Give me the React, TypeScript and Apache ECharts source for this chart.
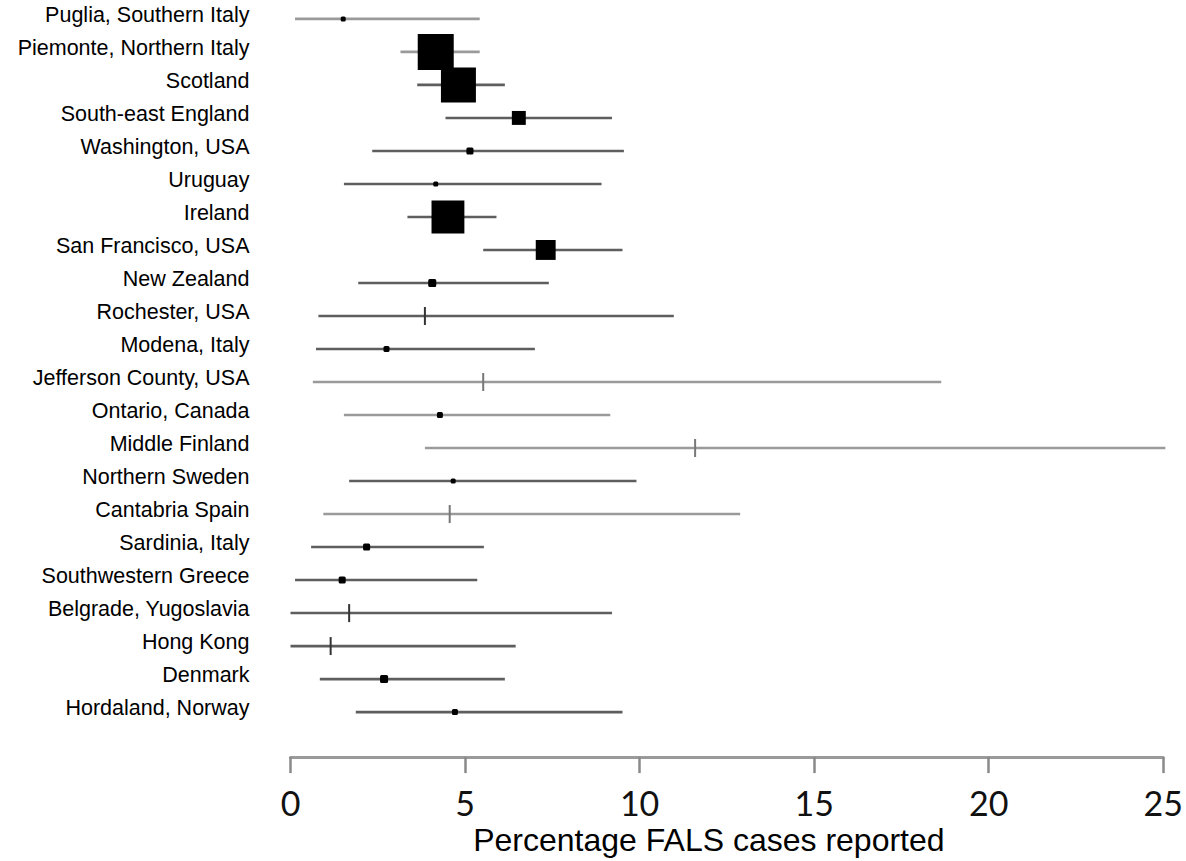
import React, { useEffect, useRef } from "react";
import * as echarts from "echarts";

const regions = [
  "Puglia, Southern Italy",
  "Piemonte, Northern Italy",
  "Scotland",
  "South-east England",
  "Washington, USA",
  "Uruguay",
  "Ireland",
  "San Francisco, USA",
  "New Zealand",
  "Rochester, USA",
  "Modena, Italy",
  "Jefferson County, USA",
  "Ontario, Canada",
  "Middle Finland",
  "Northern Sweden",
  "Cantabria Spain",
  "Sardinia, Italy",
  "Southwestern Greece",
  "Belgrade, Yugoslavia",
  "Hong Kong",
  "Denmark",
  "Hordaland, Norway",
];
const estimate = [1.51, 4.16, 4.81, 6.54, 5.14, 4.16, 4.51, 7.31, 4.06, 3.85, 2.75, 5.52, 4.28, 11.59, 4.66, 4.56, 2.18, 1.48, 1.68, 1.15, 2.68, 4.71];
const lower = [0.13, 3.15, 3.63, 4.44, 2.34, 1.53, 3.35, 5.52, 1.94, 0.8, 0.73, 0.64, 1.53, 3.85, 1.68, 0.94, 0.59, 0.13, 0.0, 0.0, 0.84, 1.87];
const upper = [5.42, 5.42, 6.14, 9.21, 9.55, 8.91, 5.9, 9.51, 7.4, 10.98, 7.0, 18.64, 9.16, 25.06, 9.91, 12.88, 5.54, 5.35, 9.21, 6.45, 6.14, 9.51];
// study weight (0 = drawn as a plain vertical tick)
const weight = [0.7, 36, 34, 5.4, 1.4, 0.7, 30, 11, 1.8, 0, 1.0, 0, 1.0, 0, 0.7, 0, 1.4, 1.4, 0, 0, 1.8, 1.0];
const xTickValues = [0, 5, 10, 15, 20, 25];
const xAxisTitle = "Percentage FALS cases reported";

const lightRows = new Set([
  "Puglia, Southern Italy",
  "Piemonte, Northern Italy",
  "Jefferson County, USA",
  "Ontario, Canada",
  "Middle Finland",
  "Cantabria Spain",
]);

export default function App() {
  const ref = useRef<HTMLDivElement>(null);
  useEffect(() => {
    if (!ref.current) return;
    const chart = echarts.init(ref.current, null, { renderer: "svg" });
    const data = regions.map((r, i) => [i, lower[i], upper[i], estimate[i], weight[i]]);
    chart.setOption({
      animation: false,
      backgroundColor: "#ffffff",
      grid: { left: 290.5, right: 22, top: 2.4, height: 732.4, containLabel: false },
      xAxis: {
        type: "value",
        min: xTickValues[0],
        max: xTickValues[xTickValues.length - 1],
        interval: 5,
        position: "bottom",
        offset: 28.5,
        splitLine: { show: false },
        axisLine: { show: true, lineStyle: { color: "#9a9a9a", width: 3 } },
        axisTick: { show: true, length: 16, lineStyle: { color: "#8a8a8a", width: 2.5 } },
        axisLabel: {
          fontFamily: "Lato",
          fontSize: 34,
          color: "#111",
          margin: 28,
        },
        name: xAxisTitle,
        nameLocation: "middle",
        nameGap: 60,
        nameTextStyle: {
          fontFamily: "Liberation Sans",
          fontSize: 32,
          color: "#000",
          padding: [0, 36, 0, 0],
        },
      },
      yAxis: {
        type: "category",
        inverse: true,
        data: regions,
        axisLine: { show: false },
        axisTick: { show: false },
        splitLine: { show: false },
        axisLabel: {
          fontFamily: "Liberation Sans",
          fontSize: 21.5,
          color: "#000",
          margin: 41,
          verticalAlign: "bottom",
          lineHeight: 8,
        },
      },
      series: [
        {
          type: "custom",
          clip: false,
          data,
          encode: { x: [1, 2, 3], y: 0 },
          renderItem: (params: any, api: any) => {
            const idx = api.value(0);
            const lo = api.coord([api.value(1), idx]);
            const hi = api.coord([api.value(2), idx]);
            const est = api.coord([api.value(3), idx]);
            const w = api.value(4);
            const light = lightRows.has(regions[idx]);
            const lineColor = light ? "#9a9a9a" : "#5e5e5e";
            const children: any[] = [
              {
                type: "line",
                shape: { x1: lo[0], y1: lo[1], x2: hi[0], y2: hi[1] },
                style: { stroke: lineColor, lineWidth: 2.6 },
              },
            ];
            if (w > 0) {
              const s = Math.sqrt(w) * 6;
              children.push({
                type: "rect",
                shape: { x: est[0] - s / 2, y: est[1] - s / 2, width: s, height: s, r: s < 9 ? 1.5 : 0 },
                style: { fill: "#000" },
              });
            } else {
              children.push({
                type: "line",
                shape: { x1: est[0], y1: est[1] - 9, x2: est[0], y2: est[1] + 9 },
                style: { stroke: light ? "#777" : "#333", lineWidth: 2 },
              });
            }
            return { type: "group", children };
          },
        },
      ],
    });
    return () => chart.dispose();
  }, []);
  return <div ref={ref} style={{ position: "fixed", left: 0, top: 0, width: 1186, height: 861 }} />;
}
